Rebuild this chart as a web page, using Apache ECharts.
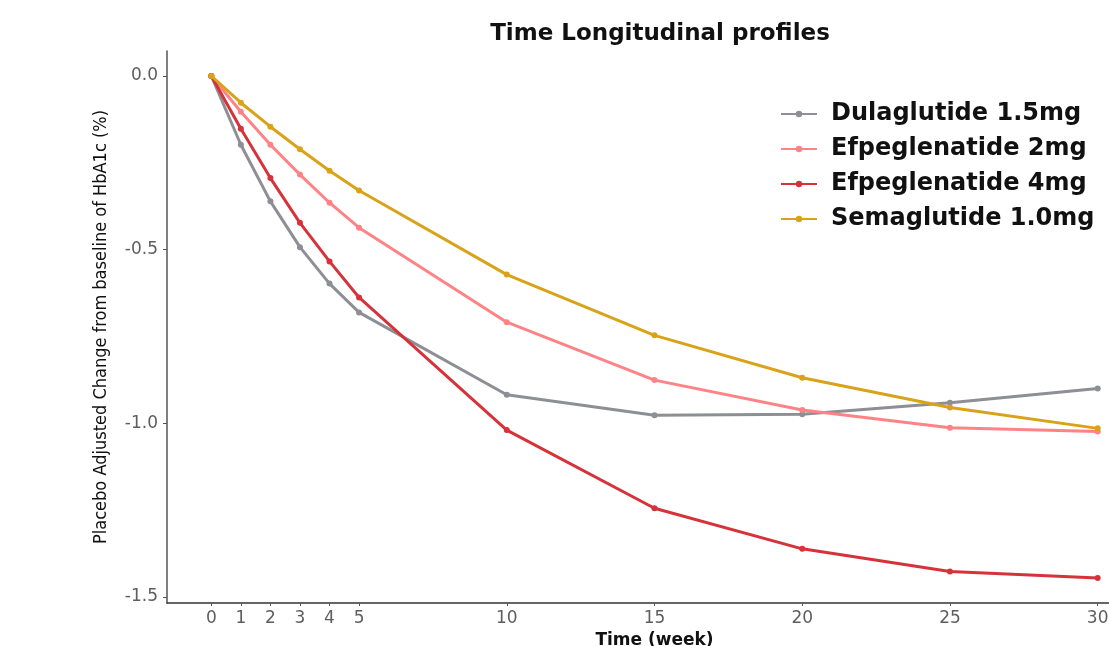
<!DOCTYPE html>
<html>
<head>
<meta charset="utf-8">
<script src="https://cdn.jsdelivr.net/npm/echarts@6/dist/echarts.min.js"></script>
<style>
  html, body { margin: 0; padding: 0; background: #fff; overflow: hidden; }
  #chart { width: 1109px; height: 646px; }
</style>
</head>
<body>
<div id="chart"></div>
<script>
// Weeks of follow-up
const weeks = [0, 1, 2, 3, 4, 5, 10, 15, 20, 25, 30];
const xTicks = [0, 1, 2, 3, 4, 5, 10, 15, 20, 25, 30];
const yTicks = [-1.5, -1.0, -0.5, 0.0];

// Placebo-adjusted change in HbA1c (%) per treatment arm
const dulaglutide15 = [0, -0.198, -0.361, -0.493, -0.598, -0.681, -0.918, -0.977, -0.974, -0.941, -0.900];
const efpeglenatide2 = [0, -0.103, -0.198, -0.284, -0.365, -0.437, -0.709, -0.876, -0.962, -1.013, -1.024];
const efpeglenatide4 = [0, -0.152, -0.294, -0.423, -0.534, -0.638, -1.020, -1.245, -1.362, -1.427, -1.446];
const semaglutide10 = [0, -0.077, -0.146, -0.211, -0.273, -0.330, -0.572, -0.747, -0.869, -0.955, -1.015];

const seriesNames = ['Dulaglutide 1.5mg', 'Efpeglenatide 2mg', 'Efpeglenatide 4mg', 'Semaglutide 1.0mg'];
const seriesValues = [dulaglutide15, efpeglenatide2, efpeglenatide4, semaglutide10];
const seriesColors = ['#8D8F95', '#FF8386', '#D6323A', '#D8A318'];

const chart = echarts.init(document.getElementById('chart'), null, { renderer: 'canvas' });

const series = seriesNames.map((name, i) => ({
  name,
  type: 'line',
  data: weeks.map((w, j) => [w, seriesValues[i][j]]),
  symbol: 'circle',
  symbolSize: 6,
  lineStyle: { width: 3, color: seriesColors[i] },
  itemStyle: { color: seriesColors[i] },
  emphasis: { disabled: true },
  clip: false,
  z: 2 + i
}));

chart.setOption({
  backgroundColor: '#fff',
  animation: false,
  title: {
    text: 'Time Longitudinal profiles',
    left: 655,
    textAlign: 'center',
    top: 18,
    textStyle: { fontFamily: 'DejaVu Sans', fontWeight: 'bold', fontSize: 23, color: '#111' }
  },
  legend: {
    data: seriesNames,
    orient: 'vertical',
    left: 775,
    top: 97,
    itemWidth: 36,
    itemHeight: 8,
    itemGap: 11,
    textStyle: { fontFamily: 'DejaVu Sans', fontWeight: 'bold', fontSize: 24, color: '#111', padding: [0, 0, 0, 9] }
  },
  grid: {
    left: 167,
    width: 975,
    top: 51,
    height: 552,
    containLabel: false,
    outerBoundsMode: 'none'
  },
  xAxis: {
    type: 'value',
    min: -1.5,
    max: 31.5,
    name: 'Time (week)',
    nameLocation: 'middle',
    nameGap: 26,
    nameTextStyle: { fontFamily: 'DejaVu Sans', fontWeight: 'bold', fontSize: 17, color: '#111' },
    axisLine: { show: true, onZero: false, lineStyle: { color: '#333', width: 1.5 } },
    axisTick: { show: true, length: 3, lineStyle: { color: '#555' }, customValues: xTicks },
    axisLabel: {
      customValues: xTicks,
      margin: 7,
      fontFamily: 'DejaVu Sans',
      fontSize: 17,
      color: '#5e5e5e'
    },
    splitLine: { show: false }
  },
  yAxis: {
    type: 'value',
    min: -1.518,
    max: 0.072,
    name: 'Placebo Adjusted Change from baseline of HbA1c (%)',
    nameLocation: 'middle',
    nameGap: 57,
    nameRotate: 90,
    nameTextStyle: { fontFamily: 'DejaVu Sans Condensed', fontSize: 18, color: '#111' },
    axisLine: { show: true, onZero: false, lineStyle: { color: '#555', width: 1.5 } },
    axisTick: { show: true, length: 4, lineStyle: { color: '#555' }, customValues: yTicks },
    axisLabel: {
      customValues: yTicks,
      margin: 9,
      fontFamily: 'DejaVu Sans',
      fontSize: 17,
      color: '#5e5e5e',
      formatter: v => v.toFixed(1)
    },
    splitLine: { show: false }
  },
  series
});
</script>
</body>
</html>
